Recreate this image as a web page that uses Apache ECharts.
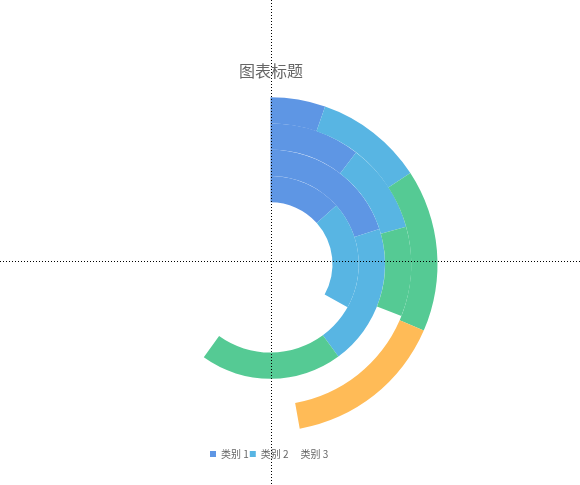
<!DOCTYPE html>
<html>
<head>
<meta charset="utf-8">
<script src="https://cdn.jsdelivr.net/npm/echarts@6/dist/echarts.min.js"></script>
<style>
html,body{margin:0;padding:0;background:#fff;}
#chart{width:580px;height:485px;}
</style>
</head>
<body>
<div id="chart"></div>
<script>
// Radius categories (inner to outer)
const categories = ['环1', '环2', '环3', '环4'];
// Stacked angle values per series
const series1 = [13.4, 20.0, 10.4, 5.3];
const series2 = [19.7, 19.9, 10.3, 10.5];
const series3 = ['-', 20.0, 10.3, 15.7];
const series4 = ['-', '-', '-', 15.7];
const seriesNames = ['类别 1', '类别 2', '类别 3', '类别 4'];
const legendNames = ['类别 1', '类别 2', '类别 3'];
const colors = ['#5E96E4', '#58B5E3', '#55CA94', '#FFBB57'];
const angleMax = 100;

const chart = echarts.init(document.getElementById('chart'), null, {renderer: 'canvas'});
const dataSets = [series1, series2, series3, series4];

const option = {
  animation: false,
  color: colors,
  title: {
    text: '图表标题',
    left: 234,
    top: 58,
    textStyle: {fontSize: 16, fontWeight: 'normal', color: '#666', fontFamily: 'Noto Sans CJK SC'}
  },
  legend: {
    left: 205,
    top: 444,
    itemWidth: 6,
    itemHeight: 6,
    itemGap: 1,
    icon: 'rect',
    textStyle: {fontSize: 10, color: '#666', fontFamily: 'Noto Sans CJK SC'},
    data: legendNames.map((n, i) => i === 2 ? {name: n, itemStyle: {opacity: 0}} : n)
  },
  polar: {
    center: [270.5, 264.3],
    radius: [62, 167]
  },
  angleAxis: {
    type: 'value',
    min: 0,
    max: angleMax,
    startAngle: 90,
    clockwise: true,
    show: false
  },
  radiusAxis: {
    type: 'category',
    data: categories,
    show: false
  },
  series: dataSets.map((d, i) => ({
    type: 'bar',
    name: seriesNames[i],
    coordinateSystem: 'polar',
    stack: 'total',
    barCategoryGap: '0%',
    data: d,
    itemStyle: {color: colors[i]}
  })),
  graphic: [
    {type: 'line', z: 100, shape: {x1: 0, y1: 261.5, x2: 580, y2: 261.5},
     style: {stroke: '#000', lineWidth: 1, lineDash: [1, 2]}},
    {type: 'line', z: 100, shape: {x1: 271.5, y1: 0, x2: 271.5, y2: 485},
     style: {stroke: '#000', lineWidth: 1, lineDash: [1, 2]}}
  ]
};
chart.setOption(option);
</script>
</body>
</html>
